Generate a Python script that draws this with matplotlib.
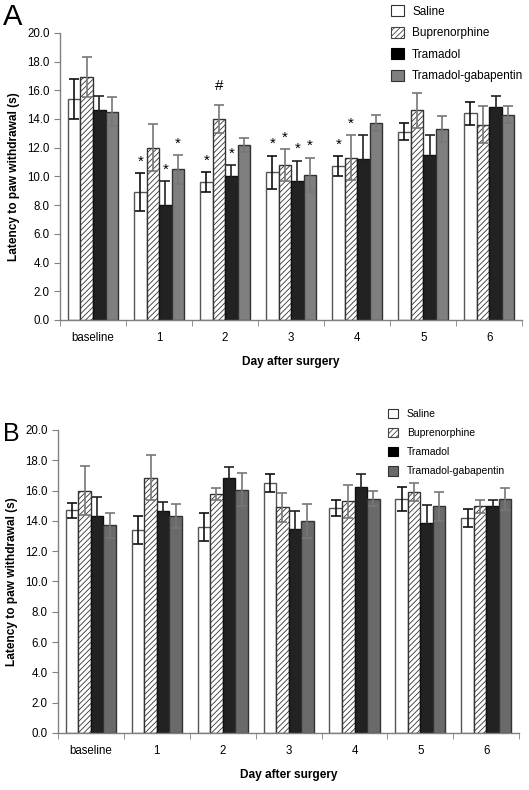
import numpy as np
import matplotlib
matplotlib.use("Agg")
import matplotlib.pyplot as plt
from matplotlib.patches import Patch

plt.rcParams['font.family'] = ['Liberation Sans', 'DejaVu Sans']
plt.rcParams['hatch.linewidth'] = 0.6

# Données
days = ["baseline", "1", "2", "3", "4", "5", "6"]
groups = ["Saline", "Buprenorphine", "Tramadol", "Tramadol-gabapentin"]

# Panel A
a_saline = [15.4, 8.9, 9.6, 10.3, 10.7, 13.1, 14.4]
a_saline_err = [1.4, 1.3, 0.7, 1.15, 0.7, 0.6, 0.8]
a_bup = [16.9, 12.0, 14.0, 10.8, 11.3, 14.6, 13.6]
a_bup_err = [1.4, 1.65, 1.0, 1.1, 1.55, 1.2, 1.3]
a_tram = [14.6, 8.0, 10.0, 9.7, 11.2, 11.5, 14.8]
a_tram_err = [1.0, 1.65, 0.8, 1.4, 1.65, 1.4, 0.8]
a_tg = [14.5, 10.5, 12.2, 10.1, 13.7, 13.3, 14.3]
a_tg_err = [1.0, 1.0, 0.5, 1.2, 0.55, 0.9, 0.6]
# (jour, groupe, symbole)
a_marks = [(1, 0, "*"), (1, 2, "*"), (1, 3, "*"),
           (2, 0, "*"), (2, 1, "#"), (2, 2, "*"),
           (3, 0, "*"), (3, 1, "*"), (3, 2, "*"), (3, 3, "*"),
           (4, 0, "*"), (4, 1, "*")]

# Panel B
b_saline = [14.7, 13.4, 13.6, 16.5, 14.85, 15.45, 14.2]
b_saline_err = [0.5, 0.9, 0.9, 0.6, 0.5, 0.8, 0.6]
b_bup = [16.0, 16.85, 15.8, 14.9, 15.3, 15.9, 14.95]
b_bup_err = [1.6, 1.5, 0.4, 0.95, 1.1, 0.6, 0.4]
b_tram = [14.3, 14.65, 16.85, 13.45, 16.25, 13.85, 14.95]
b_tram_err = [1.3, 0.6, 0.7, 1.2, 0.85, 1.2, 0.4]
b_tg = [13.7, 14.3, 16.05, 14.0, 15.45, 14.95, 15.45]
b_tg_err = [0.8, 0.8, 1.1, 1.1, 0.5, 0.95, 0.75]


def draw_panel(ax, means, errs, tg_color, marks):
    x = np.arange(len(days))
    w = 0.19
    faces = ["white", "white", "#222222", tg_color]
    edges = ["#555555", "#333333", "#111111", "#333333"]
    hatches = [None, "//////", None, None]
    ecolors = ["#111111", "#777777", "#222222", "#777777"]
    for i in range(4):
        pos = x + (i - 1.5) * w
        ax.bar(pos, means[i], w, color=faces[i], edgecolor=edges[i],
               hatch=hatches[i], linewidth=1.0, zorder=2)
        ax.errorbar(pos, means[i], yerr=errs[i], fmt="none",
                    ecolor=ecolors[i], elinewidth=1.2, capsize=3.5,
                    capthick=1.2, zorder=3)
    for d, g, s in marks:
        top = means[g][d] + errs[g][d]
        off = 1.3 if s == "#" else 0.8
        ax.text(x[d] + (g - 1.5) * w, top + off, s, ha="center",
                va="center", fontsize=11 if s == "*" else 11)

    ax.set_xlim(-0.5, len(days) - 0.5)
    ax.set_ylim(0, 20)
    ax.set_yticks(np.arange(0, 20.1, 2))
    ax.set_yticklabels([f"{v:.1f}" for v in np.arange(0, 20.1, 2)])
    ax.set_xticks(x)
    ax.set_xticklabels(days)
    ax.set_xticks(np.arange(-0.5, len(days)), minor=True)
    ax.tick_params(axis="x", which="major", length=0, labelsize=8.3, pad=9)
    ax.tick_params(axis="x", which="minor", length=4, color="#808080")
    ax.tick_params(axis="y", length=4, color="#808080", labelsize=8.3)
    for sp in ["top", "right"]:
        ax.spines[sp].set_visible(False)
    for sp in ["left", "bottom"]:
        ax.spines[sp].set_color("#808080")
        ax.spines[sp].set_linewidth(1.0)
    ax.set_xlabel("Day after surgery", fontsize=8.6, fontweight="bold", labelpad=8)
    ax.set_ylabel("Latency to paw withdrawal (s)", fontsize=8.6,
                  fontweight="bold", labelpad=5)


fig = plt.figure(figsize=(5.29, 7.90), dpi=100)
axA = fig.add_axes([0.1134, 0.595, 0.874, 0.3635])
axB = fig.add_axes([0.1096, 0.0722, 0.872, 0.3835])

draw_panel(axA, [a_saline, a_bup, a_tram, a_tg],
           [a_saline_err, a_bup_err, a_tram_err, a_tg_err], "#7f7f7f", a_marks)
draw_panel(axB, [b_saline, b_bup, b_tram, b_tg],
           [b_saline_err, b_bup_err, b_tram_err, b_tg_err], "#6a6a6a", [])


def legend_handles(tg_color):
    return [Patch(facecolor="white", edgecolor="#333333", linewidth=0.8),
            Patch(facecolor="white", edgecolor="#444444", hatch="//////", linewidth=0.8),
            Patch(facecolor="black", edgecolor="black", linewidth=0.8),
            Patch(facecolor=tg_color, edgecolor="#333333", linewidth=0.8)]


fig.legend(legend_handles("#7f7f7f"), groups, loc="upper left",
           bbox_to_anchor=(391 / 529, 1 - 5 / 790), frameon=False,
           fontsize=8.5, handlelength=1.1, handleheight=1.1,
           handletextpad=0.7, labelspacing=0.75, borderpad=0, borderaxespad=0)
fig.legend(legend_handles("#6a6a6a"), groups, loc="upper left",
           bbox_to_anchor=(388 / 529, 1 - 409 / 790), frameon=False,
           fontsize=7.5, handlelength=1.0, handleheight=1.0,
           handletextpad=0.8, labelspacing=0.85, borderpad=0, borderaxespad=0)

fig.text(3 / 529, 1 - 3 / 790, "A", fontsize=21, va="top", ha="left")
fig.text(3 / 529, 1 - 422 / 790, "B", fontsize=18, va="top", ha="left")

fig.savefig("out.png", dpi=100)
